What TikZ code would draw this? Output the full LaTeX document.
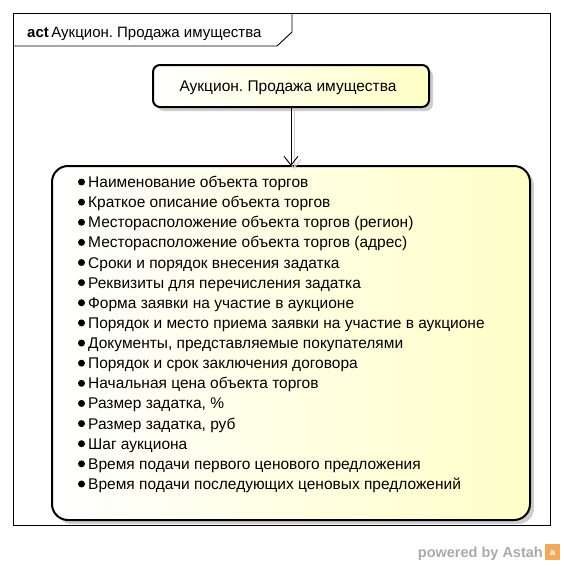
\documentclass[tikz,border=0pt]{standalone}
\usepackage{fontspec}
\setmainfont{Liberation Sans}
\frenchspacing
\usetikzlibrary{arrows.meta,shadings}
\definecolor{nodeyellow}{RGB}{255,255,200}
\definecolor{shadowgray}{RGB}{205,205,205}
\definecolor{wmgray}{RGB}{170,170,170}
\definecolor{astahorange}{RGB}{240,170,90}
\tikzset{
  actbox/.style={draw=black, line width=2pt, left color=white, right color=nodeyellow},
  itemtext/.style={anchor=base west, inner sep=0pt, font=\fontsize{15.5}{17}\selectfont},
  bulletdot/.style={circle, fill=black, inner sep=0pt, minimum size=7pt},
  flow/.style={draw=black, line width=0.9pt, -{Straight Barb[length=9pt,width=14pt,line width=0.9pt]}},
}
\begin{document}
\begin{tikzpicture}[x=1pt,y=-1pt]
\useasboundingbox (0,0) rectangle (564,566);
\fill[white] (0,0) rectangle (564,566);
% frame
\draw[line width=0.9pt] (13,13) rectangle (550,525);
\draw[line width=0.9pt] (13,46) -- (277,46) -- (292,32) -- (292,13);
\node[anchor=base west, inner sep=0pt, font=\fontsize{15}{17}\selectfont] (title) at (27,37) {\textbf{act}\,Аукцион. Продажа имущества};
% top node
\fill[shadowgray, rounded corners=7pt] (157,69) rectangle (433,111);
\draw[actbox, rounded corners=7pt] (153,65) rectangle (429,107);
\node[font=\fontsize{15.5}{17}\selectfont, inner sep=0pt] (top) at (288,88) {Аукцион. Продажа имущества};
\coordinate (topb) at (291,107);
% big box
\fill[shadowgray, rounded corners=16pt] (56,170) rectangle (534,524);
\draw[actbox, rounded corners=16pt] (52,166) rectangle (530,520);
\coordinate (boxt) at (291,166);
% arrow shadow + arrow
\coordinate (topbs) at (294,110);
\coordinate (boxts) at (294,169);
\draw[shadowgray, line width=0.9pt, -{Straight Barb[length=9pt,width=14pt,line width=0.9pt]}] (topbs) -- (boxts);
\draw[flow] (topb) -- (boxt);
% items
\foreach \t [count=\i] in {
  Наименование объекта торгов,
  Краткое описание объекта торгов,
  Месторасположение объекта торгов (регион),
  Месторасположение объекта торгов (адрес),
  Сроки и порядок внесения задатка,
  Реквизиты для перечисления задатка,
  Форма заявки на участие в аукционе,
  Порядок и место приема заявки на участие в аукционе,
  {Документы, представляемые покупателями},
  Порядок и срок заключения договора,
  Начальная цена объекта торгов,
  {Размер задатка, \%},
  {Размер задатка, руб},
  Шаг аукциона,
  Время подачи первого ценового предложения,
  Время подачи последующих ценовых предложений}
{
  \pgfmathsetmacro{\yb}{187.5+20.13*(\i-1)}
  \node[bulletdot] (b\i) at (81.5,\yb-5.5) {};
  \node[itemtext] (l\i) at (88,\yb) {\t};
}
% watermark
\node[anchor=base east, inner sep=0pt, text=wmgray, font=\bfseries\fontsize{14.5}{16}\selectfont] (wm) at (543,557) {powered by Astah};
\fill[astahorange] (545,544) rectangle (560,560);
\node[text=white, font=\bfseries\fontsize{9}{9}\selectfont, inner sep=0pt] (wmicon) at (552.5,553) {a};
\end{tikzpicture}
\end{document}
